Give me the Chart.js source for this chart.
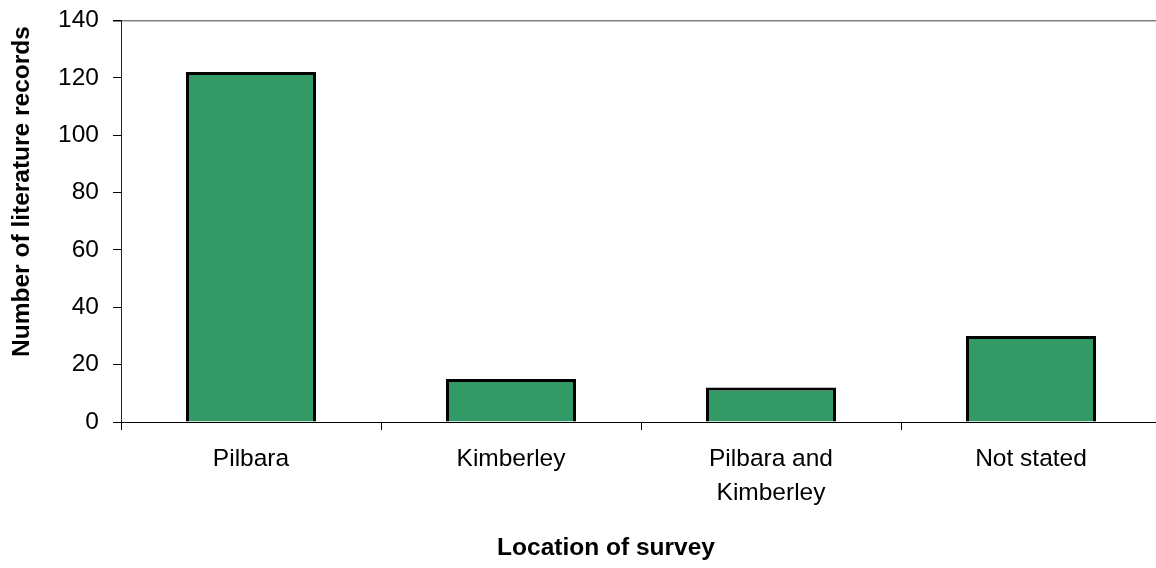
<!DOCTYPE html>
<html>
<head>
<meta charset="utf-8">
<script src="https://cdn.jsdelivr.net/npm/chart.js@4/dist/chart.umd.min.js"></script>
<style>
  html, body { margin: 0; padding: 0; background: #fff; overflow: hidden; }
  #wrap { width: 1200px; height: 568px; }
</style>
</head>
<body>
<div id="wrap"><canvas id="c" width="1200" height="568"></canvas></div>
<script>
const categories = ['Pilbara', 'Kimberley', ['Pilbara and', 'Kimberley'], 'Not stated'];
const records = [122, 15, 12, 30];
const yMin = 0;
const yMax = 140;
const yStep = 20;
const xTitle = 'Location of survey';
const yTitle = 'Number of literature records';

const FONT = '"Liberation Sans", Arial, Helvetica, sans-serif';

const axisTitles = {
  id: 'axisTitles',
  afterDraw(chart) {
    const ctx = chart.ctx;
    ctx.save();
    ctx.fillStyle = '#000';
    ctx.font = 'bold 24.5px ' + FONT;
    ctx.textAlign = 'center';
    ctx.textBaseline = 'middle';
    ctx.fillText(xTitle, 606, 548);
    ctx.translate(22, 191.5);
    ctx.rotate(-Math.PI / 2);
    ctx.fillText(yTitle, 0, 0);
    ctx.restore();
  }
};

new Chart(document.getElementById('c'), {
  type: 'bar',
  data: {
    labels: categories,
    datasets: [{
      data: records,
      backgroundColor: '#339966',
      borderColor: '#000000',
      borderWidth: 3,
      categoryPercentage: 0.5,
      barPercentage: 1.0
    }]
  },
  options: {
    responsive: false,
    animation: false,
    layout: { padding: { top: 20.5, right: 39, bottom: 0, left: 0 } },
    plugins: { legend: { display: false }, tooltip: { enabled: false } },
    scales: {
      x: {
        afterFit(scale) { scale.height = 146; scale.paddingLeft = 0; scale.paddingRight = 0; },
        grid: { offset: true, drawOnChartArea: false, drawTicks: true, tickLength: 8, color: '#000' },
        border: { display: true, color: '#000', width: 1 },
        ticks: {
          color: '#000',
          font: { family: FONT, size: 24.5, lineHeight: 1.4 },
          padding: 12,
          maxRotation: 0
        }
      },
      y: {
        min: yMin,
        max: yMax,
        afterFit(scale) { scale.width = 121; scale.paddingTop = 0; scale.paddingBottom = 0; },
        grid: {
          drawOnChartArea: true,
          drawTicks: true,
          tickLength: 8,
          tickColor: '#000',
          color: (c) => (c.tick && c.tick.value === yMax) ? '#808080' : 'rgba(0,0,0,0)',
          lineWidth: (c) => (c.tick && c.tick.value === yMax) ? 1.5 : 1
        },
        border: { display: true, color: '#222', width: 1 },
        ticks: {
          stepSize: yStep,
          color: '#000',
          font: { family: FONT, size: 24.5 },
          padding: 14
        }
      }
    }
  },
  plugins: [axisTitles]
});
</script>
</body>
</html>
